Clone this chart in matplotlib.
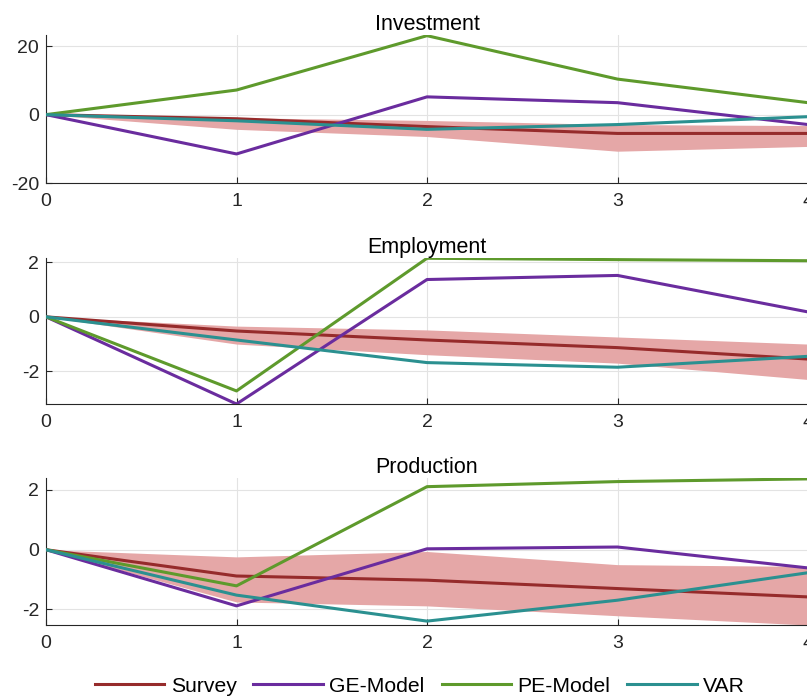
import numpy as np
import matplotlib.pyplot as plt
from matplotlib.lines import Line2D

plt.rcParams['font.family'] = ['Liberation Sans', 'DejaVu Sans']
plt.rcParams['axes.unicode_minus'] = False

horizon = [0, 1, 2, 3, 4]
titles = ["Investment", "Employment", "Production"]

# Investment
inv_survey = [0, -1.2, -3.5, -5.5, -5.5]
inv_lo = [0, -4.3, -6.4, -10.7, -9.3]
inv_hi = [0, -0.9, -1.7, -2.9, -3.2]
inv_ge = [0, -11.5, 5.2, 3.5, -2.9]
inv_pe = [0, 7.2, 23.1, 10.4, 3.5]
inv_var = [0, -1.8, -4.3, -2.9, -0.6]

# Employment
emp_survey = [0, -0.52, -0.85, -1.13, -1.55]
emp_lo = [0, -1.0, -1.39, -1.7, -2.3]
emp_hi = [0, -0.34, -0.48, -0.74, -1.0]
emp_ge = [0, -3.2, 1.37, 1.52, 0.18]
emp_pe = [0, -2.72, 2.15, 2.1, 2.06]
emp_var = [0, -0.85, -1.68, -1.85, -1.45]

# Production
prod_survey = [0, -0.88, -1.02, -1.3, -1.58]
prod_lo = [0, -1.75, -1.88, -2.21, -2.52]
prod_hi = [0, -0.24, -0.06, -0.5, -0.56]
prod_ge = [0, -1.88, 0.03, 0.09, -0.61]
prod_pe = [0, -1.21, 2.11, 2.28, 2.37]
prod_var = [0, -1.52, -2.39, -1.69, -0.77]

panels = [
    (inv_survey, inv_lo, inv_hi, inv_ge, inv_pe, inv_var, (-20, 23.3), [-20, 0, 20]),
    (emp_survey, emp_lo, emp_hi, emp_ge, emp_pe, emp_var, (-3.2, 2.16), [-2, 0, 2]),
    (prod_survey, prod_lo, prod_hi, prod_ge, prod_pe, prod_var, (-2.52, 2.4), [-2, 0, 2]),
]

c_survey = '#962B2B'
c_band = '#E5A7A7'
c_ge = '#6A2C9E'
c_pe = '#5E9A2C'
c_var = '#2B9090'

W, H = 807, 698
fig = plt.figure(figsize=(W / 100, H / 100), dpi=100)

boxes = [(35, 183), (258, 404), (478, 625)]
left, right = 46, 808

for k, (survey, lo, hi, ge, pe, var, ylim, yt) in enumerate(panels):
    top, bot = boxes[k]
    ax = fig.add_axes([left / W, 1 - bot / H, (right - left) / W, (bot - top) / H])
    ax.fill_between(horizon, lo, hi, color=c_band, lw=0, zorder=1)
    ax.plot(horizon, survey, color=c_survey, lw=2.2, zorder=3)
    ax.plot(horizon, ge, color=c_ge, lw=2.2, zorder=3)
    ax.plot(horizon, pe, color=c_pe, lw=2.2, zorder=3)
    ax.plot(horizon, var, color=c_var, lw=2.2, zorder=3)
    ax.set_xlim(0, 4)
    ax.set_ylim(*ylim)
    ax.set_xticks(horizon)
    ax.set_yticks(yt)
    ax.grid(True, color='#E3E3E3', lw=0.8, zorder=0)
    ax.set_axisbelow(True)
    for s in ['top', 'right']:
        ax.spines[s].set_visible(False)
    for s in ['left', 'bottom']:
        ax.spines[s].set_color('#262626')
        ax.spines[s].set_linewidth(0.8)
    ax.tick_params(direction='in', length=4, color='#262626', labelsize=14,
                   labelcolor='#262626', pad=5)
    ax.tick_params(axis='x', pad=7)
    ax.set_title(titles[k], fontsize=15.5, pad=3, color='black')

handles = [Line2D([], [], color=c, lw=2.2) for c in [c_survey, c_ge, c_pe, c_var]]
fig.legend(handles, ["Survey", "GE-Model", "PE-Model", "VAR"], loc='center',
           bbox_to_anchor=(420 / W, 1 - 686 / H), ncol=4, frameon=False,
           fontsize=15.2, handlelength=3.3, columnspacing=0.8, handletextpad=0.3)

fig.savefig('out.png', dpi=100)
